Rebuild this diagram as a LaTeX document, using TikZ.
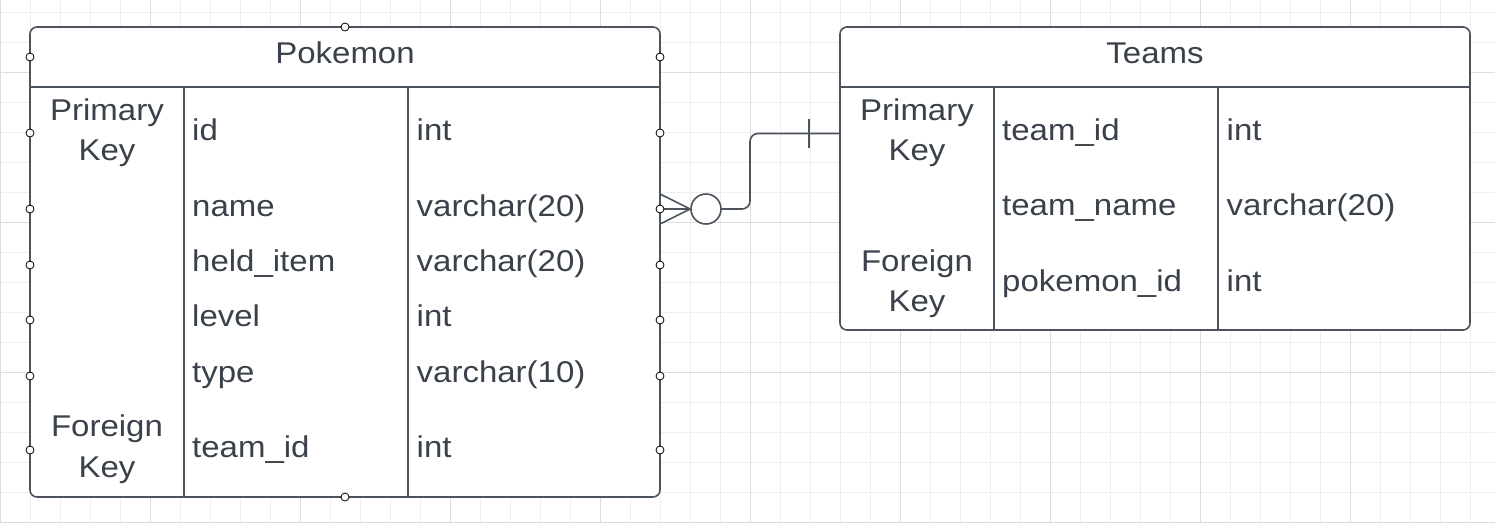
\documentclass[tikz,border=0pt]{standalone}
\usepackage{fontspec}
\setmainfont{Liberation Sans}[FakeStretch=1.1]
\definecolor{linegray}{HTML}{4C535C}
\definecolor{textgray}{HTML}{3A414A}
\definecolor{gridminor}{HTML}{EEEEEE}
\definecolor{gridmajor}{HTML}{DDDDDD}
\tikzset{
    tablebox/.style={draw=linegray, line width=1.6pt, fill=white, rounded corners=7pt},
    rule/.style={draw=linegray, line width=1.4pt},
    link/.style={draw=linegray, line width=1.6pt},
    cell/.style={anchor=base west, text=textgray, inner sep=0pt, font=\fontsize{30}{34}\selectfont},
    keycell/.style={anchor=base, text=textgray, inner sep=0pt, font=\fontsize{30}{34}\selectfont},
    handle/.style={circle, draw=black, fill=white, line width=0.8pt, minimum size=8pt, inner sep=0pt}
}
\begin{document}
\begin{tikzpicture}[x=1pt, y=-1pt]
    \useasboundingbox (0,0) rectangle (1495,523);
    \fill [white] (0,0) rectangle (1495,523);
    \foreach \gx in {0,30,...,1470} \draw [gridminor, line width=1pt] (\gx+0.5,0) -- (\gx+0.5,523);
    \foreach \gy in {12,42,...,522} \draw [gridminor, line width=1pt] (0,\gy) -- (1495,\gy);
    \foreach \gx in {0,150,...,1350} \draw [gridmajor, line width=1pt] (\gx+0.5,0) -- (\gx+0.5,523);
    \foreach \gy in {72,222,372,522} \draw [gridmajor, line width=1pt] (0,\gy) -- (1495,\gy);

    \draw [tablebox] (30,27) rectangle (660,497);
    \draw [rule] (30,87) -- (660,87);
    \draw [rule] (184,87) -- (184,497);
    \draw [rule] (408,87) -- (408,497);
    \node (pk-title) at (345,63.3) [keycell] {Pokemon};
    \node (pk-pk1) at (107,120) [keycell] {Primary};
    \node (pk-pk2) at (107,160.7) [keycell] {Key};
    \node (pk-fk1) at (107,436.5) [keycell] {Foreign};
    \node (pk-fk2) at (107,477) [keycell] {Key};
    \node (pk-id) at (192,140.7) [cell] {id};
    \node (pk-id-t) at (416.5,140.7) [cell] {int};
    \node (pk-name) at (192,216.5) [cell] {name};
    \node (pk-name-t) at (416.5,216.5) [cell] {varchar(20)};
    \node (pk-item) at (192,271) [cell] {held\_item};
    \node (pk-item-t) at (416.5,271) [cell] {varchar(20)};
    \node (pk-level) at (192,326.5) [cell] {level};
    \node (pk-level-t) at (416.5,326.5) [cell] {int};
    \node (pk-type) at (192,382) [cell] {type};
    \node (pk-type-t) at (416.5,382) [cell] {varchar(10)};
    \node (pk-team) at (192,457) [cell] {team\_id};
    \node (pk-team-t) at (416.5,457) [cell] {int};

    \draw [tablebox] (840,27) rectangle (1470,330);
    \draw [rule] (840,87) -- (1470,87);
    \draw [rule] (994,87) -- (994,330);
    \draw [rule] (1218,87) -- (1218,330);
    \node (tm-title) at (1155,63.3) [keycell] {Teams};
    \node (tm-pk1) at (917,120) [keycell] {Primary};
    \node (tm-pk2) at (917,160.7) [keycell] {Key};
    \node (tm-fk1) at (917,271) [keycell] {Foreign};
    \node (tm-fk2) at (917,311) [keycell] {Key};
    \node (tm-id) at (1002,140.7) [cell] {team\_id};
    \node (tm-id-t) at (1226.5,140.7) [cell] {int};
    \node (tm-name) at (1002,215.5) [cell] {team\_name};
    \node (tm-name-t) at (1226.5,215.5) [cell] {varchar(20)};
    \node (tm-poke) at (1002,291) [cell] {pokemon\_id};
    \node (tm-poke-t) at (1226.5,291) [cell] {int};

    \coordinate (pk-name-end) at (660,209);
    \coordinate (tm-id-end) at (840,133.5);
    \node (ring) at (706,209) [circle, draw=linegray, line width=1.6pt, fill=white, minimum size=30pt, inner sep=0pt] {};
    \draw [link] ([yshift=15pt]pk-name-end) -- (ring.west) -- ([yshift=-15pt]pk-name-end);
    \draw [link] (pk-name-end) -- (ring.west);
    \draw [link, rounded corners=8pt] (ring.east) -- (750,209) |- (tm-id-end);
    \draw [link] (809,119) -- (809,148);

    \node (h-top) at (345,27) [handle] {};
    \node (h-bottom) at (345,497) [handle] {};
    \foreach \hy in {57,133,209,265,320,376,450} {
        \node (hl-\hy) at (30,\hy) [handle] {};
        \node (hr-\hy) at (660,\hy) [handle] {};
    }
\end{tikzpicture}
\end{document}
